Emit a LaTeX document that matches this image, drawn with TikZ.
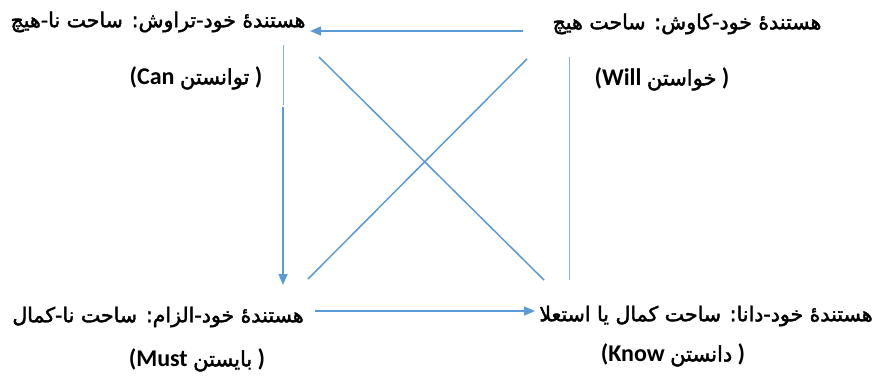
\documentclass[tikz,border=0pt]{standalone}
\usepackage{fontspec}
\setmainfont{Carlito}
\newfontfamily\arabicfont[Script=Arabic,BoldFont={DejaVu Sans},BoldFeatures={FakeBold=2}]{DejaVu Sans}
\TeXXeTstate=1
\usetikzlibrary{arrows.meta,calc}
\definecolor{linkblue}{RGB}{91,155,213}

\newcommand{\fa}[1]{{\arabicfont\bfseries\beginR #1\endR}}
\newcommand{\faword}[1]{{\fontsize{21}{24}\selectfont\fa{#1}}}

\begin{document}
\begin{tikzpicture}[x=1pt,y=-1pt,
    head/.style={font=\bfseries\fontsize{20.5}{24}\selectfont, inner sep=0pt},
    sub/.style={font=\bfseries\fontsize{24}{26}\selectfont, inner sep=0pt},
    link/.style={draw=linkblue, line width=1.5pt},
    arrow/.style={link, -{Triangle[length=11pt,width=9pt]}},
    faint/.style={draw=linkblue!75, line width=1pt}
]
    \useasboundingbox (0,0) rectangle (886,383);

    % four corners
    \node[head] (tl) at (158,22) {\fa{هستندهٔ خود-تراوش: ساحت نا-هیچ}};
    \node[sub] (tlsub) at (196,78) {(Can \faword{توانستن} )};
    \node[head] (tr) at (687,24) {\fa{هستندهٔ خود-کاوش: ساحت هیچ}};
    \node[sub] (trsub) at (662,79) {(Will \faword{خواستن} )};
    \node[head] (bl) at (158,317) {\fa{هستندهٔ خود-الزام: ساحت نا-کمال}};
    \node[sub] (blsub) at (197,360) {(Must \faword{بایستن} )};
    \node[head] (br) at (706,316) {\fa{هستندهٔ خود-دانا: ساحت کمال یا استعلا}};
    \node[sub] (brsub) at (673,355) {(Know \faword{دانستن} )};

    % connectors
    \draw[arrow] ($(tr)+(-164,7)$) -- ($(tl)+(152,9)$);
    \draw[faint] ($(tl)+(125,23)$) -- ($(tl)+(125,83)$);
    \draw[arrow] ($(tl)+(125,85)$) -- ($(bl)+(125,-32)$);
    \draw[arrow] ($(bl)+(157,-6)$) -- ($(br)+(-171,-5)$);
    \draw[faint] ($(tr)+(-118,33)$) -- ($(br)+(-137,-36)$);
    \draw[link] ($(tl)+(161,35)$) -- ($(br)+(-162,-36)$);
    \draw[link] ($(tr)+(-160,35)$) -- ($(bl)+(150,-38)$);
\end{tikzpicture}
\end{document}
